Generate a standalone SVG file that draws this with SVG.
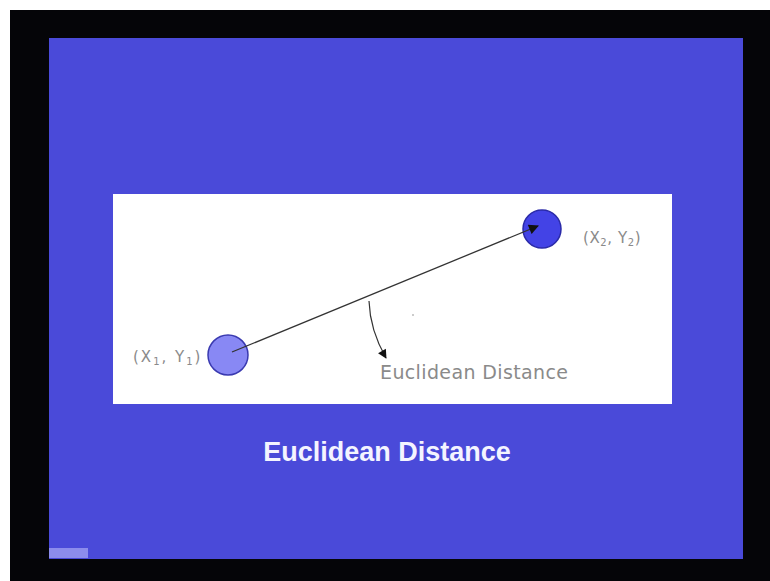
<svg xmlns="http://www.w3.org/2000/svg" width="770" height="581" viewBox="0 0 770 581">
<defs>
<marker id="ah" viewBox="0 0 10 10" refX="9" refY="5" markerWidth="11" markerHeight="9" markerUnits="userSpaceOnUse" orient="auto"><path d="M0,0 L10,5 L0,10 z" fill="#111"/></marker>
<marker id="ah2" viewBox="0 0 10 10" refX="9" refY="5" markerWidth="12" markerHeight="10" markerUnits="userSpaceOnUse" orient="auto"><path d="M0,0 L10,5 L0,10 z" fill="#111"/></marker>
</defs>
<style>
.lbl{font-family:"DejaVu Sans","Liberation Sans",sans-serif;fill:#8a8a8a;font-size:15px}
.big{font-size:19px}
.title{font-family:"Liberation Sans","DejaVu Sans",sans-serif;fill:#f4f4ff;font-size:27px;font-weight:bold}
</style>
<rect x="0" y="0" width="770" height="581" fill="#ffffff"/>
<rect x="10" y="10" width="760" height="571" fill="#050508"/>
<rect x="49" y="38" width="694" height="521" fill="#4a4ad9"/>
<rect x="49" y="548" width="39" height="10" fill="#8c8cec"/>
<rect x="113" y="194" width="559" height="210" fill="#ffffff"/>
<g id="p1">
<circle cx="228" cy="355" r="20" fill="#8888f4" stroke="#3a3ab0" stroke-width="1.5"/>
<text class="lbl" x="133" y="362" letter-spacing="2">(X<tspan font-size="10" dy="3">1</tspan><tspan dy="-3">, Y</tspan><tspan font-size="10" dy="3">1</tspan><tspan dy="-3">)</tspan></text>
</g>
<g id="p2">
<circle cx="542" cy="229" r="19" fill="#4343e6" stroke="#2a2aa8" stroke-width="1.5"/>
<text class="lbl" x="583" y="243" letter-spacing="0.6">(X<tspan font-size="10" dy="3">2</tspan><tspan dy="-3">, Y</tspan><tspan font-size="10" dy="3">2</tspan><tspan dy="-3">)</tspan></text>
</g>
<g id="connectors">
<line x1="232" y1="352" x2="538" y2="226" stroke="#333" stroke-width="1.3" marker-end="url(#ah2)"/>
<path d="M369,301 Q370,330 386,358" fill="none" stroke="#333" stroke-width="1.2" marker-end="url(#ah)"/>
</g>
<circle cx="413" cy="315" r="1" fill="#bbb"/>
<text class="lbl big" x="380" y="379" textLength="188" lengthAdjust="spacing">Euclidean Distance</text>
<text class="title" x="387" y="461" text-anchor="middle">Euclidean Distance</text>
</svg>
